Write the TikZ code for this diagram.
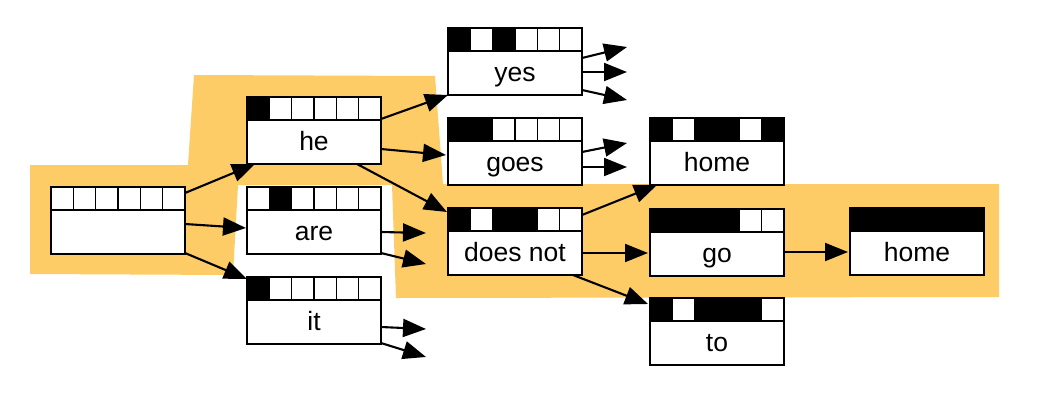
\documentclass[tikz,border=0pt]{standalone}
\usepackage{fontspec}
\setmainfont{Liberation Sans}
\usetikzlibrary{arrows.meta,calc}
\definecolor{hl}{RGB}{254,204,102}
\colorlet{cb}{black}
\colorlet{cw}{white}
\tikzset{
  boxframe/.style={draw=black, line width=2.2pt, fill=white, minimum width=134pt, minimum height=67pt, inner sep=0pt, outer sep=0pt},
  cellst/.style={draw=black, line width=1.6pt},
  lab/.style={anchor=base, font=\fontsize{26.5}{30}\selectfont, inner sep=0pt},
  arr/.style={line width=2.1pt, -{Triangle[length=23pt,width=18pt]}},
}
\newcommand\mkbox[5]{%
  \node[boxframe] (#1) at ({#2+67},{#3+33.5}) {};
  \foreach \c [count=\i] in {#5} {
    \filldraw[cellst, fill=\c] ({#2+(\i-1)*134/6},#3) rectangle ({#2+\i*134/6},{#3+23});
  }
  \draw[line width=2.2pt] (#1.north west) rectangle (#1.south east);
  \node[lab] (#1-t) at ({#2+67},{#3+53.5}) {#4};
}
\begin{document}
\begin{tikzpicture}[x=1pt,y=-1pt]
\useasboundingbox[fill=white] (0,0) rectangle (1037,400);
% highlighted region
\fill[hl] (30,165) -- (188,165) -- (194,75) -- (435,76) -- (443,184) -- (999,184)
  -- (999,297) -- (396,298) -- (392,185) -- (238,185) -- (233,275) -- (30,274) -- cycle;
% boxes
\mkbox{start}{51}{187}{}{cw,cw,cw,cw,cw,cw}
\mkbox{he}{247}{97}{he}{cb,cw,cw,cw,cw,cw}
\mkbox{are}{247}{187}{are}{cw,cb,cw,cw,cw,cw}
\mkbox{it}{247}{277}{it}{cb,cw,cw,cw,cw,cw}
\mkbox{yes}{448}{28}{yes}{cb,cw,cb,cw,cw,cw}
\mkbox{goes}{448}{118}{goes}{cb,cb,cw,cw,cw,cw}
\mkbox{doesnot}{448}{208}{does not}{cb,cw,cb,cb,cw,cw}
\mkbox{homeA}{650}{118}{home}{cb,cw,cb,cb,cw,cb}
\mkbox{go}{650}{209}{go}{cb,cb,cb,cb,cw,cw}
\mkbox{homeB}{850}{208}{home}{cb,cb,cb,cb,cb,cb}
\mkbox{to}{650}{298}{to}{cb,cw,cb,cb,cb,cw}
% free ends
\coordinate (are-o1) at ([shift={(179,46)}]are.north west);
\coordinate (are-o2) at ([shift={(179,77)}]are.north west);
\coordinate (it-o1) at ([shift={(179,52)}]it.north west);
\coordinate (it-o2) at ([shift={(179,80)}]it.north west);
\coordinate (yes-o1) at ([shift={(179,19)}]yes.north west);
\coordinate (yes-o2) at ([shift={(179,44)}]yes.north west);
\coordinate (yes-o3) at ([shift={(179,72)}]yes.north west);
\coordinate (goes-o1) at ([shift={(179,25)}]goes.north west);
\coordinate (goes-o2) at ([shift={(179,49)}]goes.north west);
% connectors
\draw[arr] ([shift={(134,6)}]start.north west) -- ([shift={(8,67)}]he.north west);
\draw[arr] ([shift={(134,37)}]start.north west) -- ([shift={(-1,41)}]are.north west);
\draw[arr] ([shift={(134,66)}]start.north west) -- ([shift={(0,2)}]it.north west);
\draw[arr] ([shift={(134,22)}]he.north west) -- ([shift={(0,67)}]yes.north west);
\draw[arr] ([shift={(134,52)}]he.north west) -- ([shift={(-2,37)}]goes.north west);
\draw[arr] ([shift={(110,67)}]he.north west) -- ([shift={(-1,4)}]doesnot.north west);
\draw[arr] ([shift={(134,45)}]are.north west) -- (are-o1);
\draw[arr] ([shift={(134,66)}]are.north west) -- (are-o2);
\draw[arr] ([shift={(134,50)}]it.north west) -- (it-o1);
\draw[arr] ([shift={(134,66)}]it.north west) -- (it-o2);
\draw[arr] ([shift={(134,30)}]yes.north west) -- (yes-o1);
\draw[arr] ([shift={(134,44)}]yes.north west) -- (yes-o2);
\draw[arr] ([shift={(134,62)}]yes.north west) -- (yes-o3);
\draw[arr] ([shift={(134,34)}]goes.north west) -- (goes-o1);
\draw[arr] ([shift={(134,49)}]goes.north west) -- (goes-o2);
\draw[arr] ([shift={(134,7)}]doesnot.north west) -- ([shift={(7,67)}]homeA.north west);
\draw[arr] ([shift={(134,45)}]doesnot.north west) -- ([shift={(-2,44)}]go.north west);
\draw[arr] ([shift={(125,67)}]doesnot.north west) -- ([shift={(-2,6)}]to.north west);
\draw[arr] ([shift={(134,43)}]go.north west) -- ([shift={(-2,44)}]homeB.north west);
\end{tikzpicture}
\end{document}
